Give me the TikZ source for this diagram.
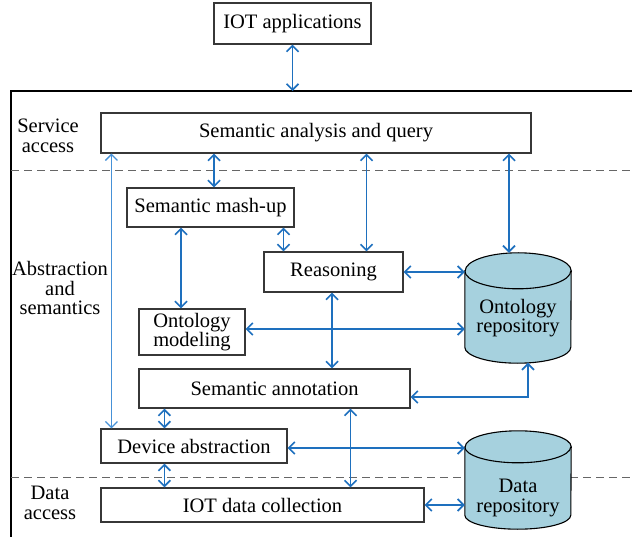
\documentclass[tikz,border=0pt]{standalone}
\usepackage{fontspec}
\setmainfont{Liberation Serif}
\usetikzlibrary{positioning,arrows.meta}
\definecolor{linkblue}{RGB}{30,112,190}
\definecolor{linklight}{RGB}{70,145,215}
\definecolor{repofill}{RGB}{166,209,222}
\definecolor{boxgray}{RGB}{55,55,55}

\begin{document}
\begin{tikzpicture} [
	x=1pt,y=-1pt,
	font=\fontsize{20.5}{19.5}\selectfont,
	text centered,
	nbox/.style={
		rectangle,draw=boxgray,line width=1.1pt,fill=white
	},
	nrepo/.style={
		rectangle,minimum width=106pt,inner sep=0pt
	},
	repoline/.style={
		draw=black,line width=1.1pt,fill=repofill
	},
	nlayer/.style={
		align=center
	},
	link/.style={
		draw=linkblue,line width=1.7pt,
		{Straight Barb[length=6pt,width=12pt]}-{Straight Barb[length=6pt,width=12pt]}
	},
	divider/.style={
		draw=black!60,line width=0.9pt,dash pattern=on 8pt off 5pt
	}
]
\useasboundingbox (0,0) rectangle (632,537);
% frame and layers
\coordinate (ftl) at (11,91);
\draw [line width=1.1pt] (11,537) -- (ftl) -- (632,91);
\draw [divider] (11,170) -- (632,170);
\draw [divider] (11,477) -- (632,477);
\node [nlayer]	(lservice)	at (48,136)	{Service\\access};
\node [nlayer]	(labstr)	at (60,288)	{Abstraction\\and\\semantics};
\node [nlayer]	(ldata)	at (50,503)	{Data\\access};

% boxes
\node [nbox]	(app)	[minimum width=157pt,minimum height=41pt] at (292.5,23.5)	{IOT applications};
\node [nbox]	(saq)	[minimum width=430pt,minimum height=40pt] at (316,133)	{Semantic analysis and query};
\node [nbox]	(mash)	[minimum width=167pt,minimum height=39pt] at (210.5,207.5)	{Semantic mash-up};
\node [nbox]	(reas)	[minimum width=139pt,minimum height=40pt] at (333.5,272)	{Reasoning};
\node [nbox,align=center]	(omod)	[minimum width=106pt,minimum height=46pt,inner sep=1pt] at (192,332)	{Ontology\\modeling};
\node [nbox]	(sann)	[minimum width=271pt,minimum height=39pt] at (274.5,388.5)	{Semantic annotation};
\node [nbox]	(dabs)	[minimum width=186pt,minimum height=34pt] at (194,446)	{Device abstraction};
\node [nbox]	(dcol)	[minimum width=323pt,minimum height=34pt] at (262.5,505)	{IOT data collection};

% repositories (body node, ends drawn as arcs)
\node [nrepo]	(orep)	[minimum height=76pt] at (518,309)	{};
\draw [repoline] (orep.north west) -- (orep.south west)
	arc [start angle=180,end angle=360,x radius=53pt,y radius=16pt]
	-- (orep.north east)
	arc [start angle=0,end angle=180,x radius=53pt,y radius=18pt] -- cycle;
\draw [line width=1.1pt] (orep.north west) arc [start angle=180,end angle=360,x radius=53pt,y radius=18pt];
\node [align=center]	(oreptext)	at (518,318)	{Ontology\\repository};

\node [nrepo]	(drep)	[minimum height=68pt] at (518,481)	{};
\draw [repoline] (drep.north west) -- (drep.south west)
	arc [start angle=180,end angle=360,x radius=53pt,y radius=14pt]
	-- (drep.north east)
	arc [start angle=0,end angle=180,x radius=53pt,y radius=16pt] -- cycle;
\draw [line width=1.1pt] (drep.north west) arc [start angle=180,end angle=360,x radius=53pt,y radius=16pt];
\node [align=center]	(dreptext)	at (518,498)	{Data\\repository};

% links
\draw [link]	(app.south) -- (app.south |- ftl);
\draw [link,line width=1.3pt,draw=linklight]	([xshift=11pt]saq.south west) -- ([xshift=11pt]dabs.north west);
\draw [link]	([xshift=3.5pt]mash.north) -- ([xshift=3.5pt]mash.north |- saq.south);
\draw [link]	([xshift=-11pt]omod.north) -- ([xshift=-11pt]omod.north |- mash.south);
\draw [link]	([xshift=-50pt]reas.north) -- ([xshift=-50pt]reas.north |- mash.south);
\draw [link]	([xshift=33pt]reas.north) -- ([xshift=33pt]reas.north |- saq.south);
\draw [link]	([xshift=-9pt,yshift=18pt]orep.north) -- ([xshift=-9pt]orep.north |- saq.south);
\draw [link]	(reas.east) -- (reas.east -| orep.west);
\draw [link]	([yshift=3pt]omod.east) -- ([yshift=3pt]omod.east -| orep.west);
\draw [link]	([xshift=-1.5pt]reas.south) -- ([xshift=-1.5pt]reas.south |- sann.north);
\draw [link]	([yshift=-8.5pt]sann.east) -| ([xshift=10pt,yshift=-15.5pt]orep.south);
\draw [link]	([xshift=64pt]dabs.north west) -- ([xshift=64pt]dabs.north west |- sann.south);
\draw [link]	([xshift=64pt]dabs.south west) -- ([xshift=64pt]dabs.south west |- dcol.north);
\draw [link]	([xshift=76pt]sann.south) -- ([xshift=76pt]sann.south |- dcol.north);
\draw [link]	([yshift=-2pt]dabs.east) -- ([yshift=-2pt]dabs.east -| drep.west);
\draw [link]	(dcol.east) -- (dcol.east -| drep.west);
\end{tikzpicture}
\end{document}
